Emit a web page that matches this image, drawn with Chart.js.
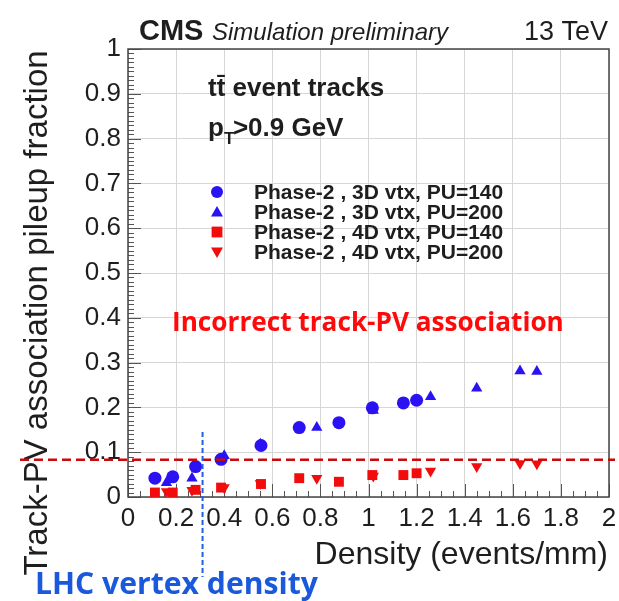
<!DOCTYPE html>
<html>
<head>
<meta charset="utf-8">
<script src="https://cdn.jsdelivr.net/npm/chart.js@4.4.1/dist/chart.umd.min.js"></script>
<style>
  html, body { margin: 0; padding: 0; background: #fff; }
  #wrap { width: 619px; height: 601px; position: relative; }
</style>
</head>
<body>
<div id="wrap"><canvas id="chart"></canvas></div>
<script>
// pile-up densities (events/mm) for the two PU scenarios
const densityPU140 = [0.112, 0.186, 0.281, 0.387, 0.553, 0.712, 0.877, 1.016, 1.145, 1.2]
const densityPU200 = [0.16, 0.266, 0.40, 0.55, 0.785, 1.02, 1.258, 1.45, 1.63, 1.70]

// track-PV association pileup fraction
const frac3DPU140 = [0.042, 0.045, 0.068, 0.084, 0.115, 0.155, 0.166, 0.199, 0.21, 0.216]
const frac3DPU200 = [0.032, 0.042, 0.092, 0.118, 0.155, 0.193, 0.224, 0.243, 0.281, 0.28]
const frac4DPU140 = [0.010, 0.010, 0.016, 0.021, 0.029, 0.042, 0.034, 0.049, 0.049, 0.053]
const frac4DPU200 = [0.012, 0.015, 0.021, 0.030, 0.042, 0.047, 0.058, 0.068, 0.075, 0.074]

const seriesNames = [
  'Phase-2 , 3D vtx, PU=140',
  'Phase-2 , 3D vtx, PU=200',
  'Phase-2 , 4D vtx, PU=140',
  'Phase-2 , 4D vtx, PU=200'
]

const xTickValues = [0, 0.2, 0.4, 0.6, 0.8, 1, 1.2, 1.4, 1.6, 1.8, 2]
const xTickLabels = ['0', '0.2', '0.4', '0.6', '0.8', '1', '1.2', '1.4', '1.6', '1.8', '2']
const yTickValues = [0, 0.1, 0.2, 0.3, 0.4, 0.5, 0.6, 0.7, 0.8, 0.9, 1]
const yTickLabels = ['0', '0.1', '0.2', '0.3', '0.4', '0.5', '0.6', '0.7', '0.8', '0.9', '1']

const thresholdFraction = 0.083   // red dashed line
const lhcDensity = 0.31           // blue dashed line

const BLUE = '#2a12f2'
const RED = '#f20c0c'
const ROOT_FONT = '"Liberation Sans", Arial, Helvetica, sans-serif'
const NOTE_FONT = '"Open Sans", "Noto Sans", sans-serif'

const toPoints = (xs, ys) => xs.map((x, i) => ({ x, y: ys[i] }))

const markers = [
  { style: 'circle', rotation: 0, color: BLUE },
  { style: 'triangle', rotation: 0, color: BLUE },
  { style: 'rect', rotation: 0, color: RED },
  { style: 'triangle', rotation: 180, color: RED }
]

const seriesData = [
  toPoints(densityPU140, frac3DPU140),
  toPoints(densityPU200, frac3DPU200),
  toPoints(densityPU140, frac4DPU140),
  toPoints(densityPU200, frac4DPU200)
]

const datasets = seriesData.map((data, i) => ({
  label: seriesNames[i],
  data,
  pointStyle: markers[i].style,
  rotation: markers[i].rotation,
  pointRadius: markers[i].style === 'rect' ? 7 : 6.5,
  pointHoverRadius: 6.5,
  backgroundColor: markers[i].color,
  borderColor: markers[i].color,
  borderWidth: 0
}))

function drawMarker(ctx, style, rotation, x, y, r, color) {
  ctx.save()
  ctx.fillStyle = color
  ctx.translate(x, y)
  ctx.rotate(rotation * Math.PI / 180)
  ctx.beginPath()
  if (style === 'circle') {
    ctx.arc(0, 0, r, 0, Math.PI * 2)
  } else if (style === 'rect') {
    ctx.rect(-r * 0.9, -r * 0.9, r * 1.8, r * 1.8)
  } else {
    ctx.moveTo(0, -r)
    ctx.lineTo(r, r * 0.75)
    ctx.lineTo(-r, r * 0.75)
    ctx.closePath()
  }
  ctx.fill()
  ctx.restore()
}

function fitText(ctx, text, weight, family, width) {
  ctx.font = `${weight} 20px ${family}`
  const size = 20 * width / ctx.measureText(text).width
  ctx.font = `${weight} ${size}px ${family}`
}

// ROOT-style frame with inward major and minor ticks
const framePlugin = {
  id: 'frame',
  beforeDatasetsDraw(chart) {
    const { ctx, chartArea: a, scales: { x, y } } = chart
    ctx.save()
    ctx.strokeStyle = '#555'
    ctx.lineWidth = 1
    for (let v = 0; v <= 2.0001; v += 0.05) {
      const px = Math.round(x.getPixelForValue(v)) + 0.5
      const major = Math.abs(v / 0.2 - Math.round(v / 0.2)) < 1e-6
      ctx.beginPath()
      ctx.moveTo(px, a.bottom)
      ctx.lineTo(px, a.bottom - (major ? 13 : 6))
      ctx.stroke()
    }
    for (let v = 0; v <= 1.0001; v += 0.01) {
      const py = Math.round(y.getPixelForValue(v)) + 0.5
      const major = Math.abs(v / 0.1 - Math.round(v / 0.1)) < 1e-6
      ctx.beginPath()
      ctx.moveTo(a.left, py)
      ctx.lineTo(a.left + (major ? 13 : 6), py)
      ctx.stroke()
    }
    ctx.strokeStyle = '#444'
    ctx.lineWidth = 1.5
    ctx.strokeRect(a.left, a.top, a.right - a.left, a.bottom - a.top)
    ctx.restore()
  }
}

const notesPlugin = {
  id: 'notes',
  afterDraw(chart) {
    const { ctx, scales: { x, y } } = chart
    ctx.save()
    ctx.fillStyle = '#1e1e1e'
    ctx.textBaseline = 'alphabetic'

    // header
    ctx.textAlign = 'left'
    ctx.font = `bold 29px ${ROOT_FONT}`
    ctx.fillText('CMS', 139, 40)
    ctx.font = `italic 24px ${ROOT_FONT}`
    ctx.fillText('Simulation preliminary', 212, 40)
    ctx.textAlign = 'right'
    ctx.font = `27px ${ROOT_FONT}`
    ctx.fillText('13 TeV', 608, 40)

    // axis titles
    ctx.font = `32px ${ROOT_FONT}`
    ctx.textAlign = 'right'
    ctx.fillText('Density (events/mm)', 608, 564)
    ctx.save()
    ctx.font = `33px ${ROOT_FONT}`
    ctx.translate(47, 313)
    ctx.rotate(-Math.PI / 2)
    ctx.textAlign = 'center'
    ctx.fillText('Track-PV association pileup fraction', 0, 0)
    ctx.restore()

    // sample description
    ctx.textAlign = 'left'
    ctx.font = `bold 26px ${ROOT_FONT}`
    ctx.fillText('tt\u0304 event tracks', 208, 96)
    ctx.fillText('p', 208, 136)
    const pw = ctx.measureText('p').width
    ctx.font = `bold 17px ${ROOT_FONT}`
    ctx.fillText('T', 208 + pw, 144)
    ctx.font = `bold 26px ${ROOT_FONT}`
    ctx.fillText('>0.9 GeV', 208 + pw + 9, 136)

    // legend
    ctx.font = `bold 21px ${ROOT_FONT}`
    seriesNames.forEach((name, i) => {
      const ly = 192 + i * 20
      drawMarker(ctx, markers[i].style, markers[i].rotation, 217, ly, 6, markers[i].color)
      ctx.fillStyle = '#1e1e1e'
      ctx.fillText(name, 254, ly + 7)
    })

    // pileup threshold line
    const ty = y.getPixelForValue(thresholdFraction)
    ctx.strokeStyle = '#c80a0a'
    ctx.lineWidth = 2.5
    ctx.setLineDash([9, 5])
    ctx.beginPath()
    ctx.moveTo(20, ty)
    ctx.lineTo(615, ty)
    ctx.stroke()

    // LHC density line
    const lx = x.getPixelForValue(lhcDensity)
    ctx.strokeStyle = '#1f5fe0'
    ctx.lineWidth = 2
    ctx.setLineDash([5, 3])
    ctx.beginPath()
    ctx.moveTo(lx, 432)
    ctx.lineTo(lx, 577)
    ctx.stroke()
    ctx.setLineDash([])

    // overlaid notes
    ctx.textAlign = 'left'
    ctx.fillStyle = '#ff0a0a'
    fitText(ctx, 'Incorrect track-PV association', 'bold', NOTE_FONT, 392)
    ctx.fillText('Incorrect track-PV association', 172, 331)
    ctx.fillStyle = '#1a58dc'
    fitText(ctx, 'LHC vertex density', 'bold', NOTE_FONT, 283)
    ctx.fillText('LHC vertex density', 35, 594)
    ctx.restore()
  }
}

new Chart(document.getElementById('chart'), {
  type: 'scatter',
  data: { datasets },
  plugins: [framePlugin, notesPlugin],
  options: {
    responsive: true,
    maintainAspectRatio: false,
    animation: false,
    layout: { padding: { top: 49, right: 10, left: 0, bottom: 0 } },
    plugins: {
      legend: { display: false },
      tooltip: { enabled: false }
    },
    scales: {
      x: {
        type: 'linear',
        min: 0,
        max: 2,
        afterBuildTicks: scale => { scale.ticks = xTickValues.map(value => ({ value })) },
        afterFit: scale => {
          scale.height = 104
          scale.paddingLeft = 0
          scale.paddingRight = 0
        },
        grid: { color: '#d6d6d6', lineWidth: 1, drawTicks: false },
        border: { display: false },
        ticks: {
          padding: 6,
          color: '#1e1e1e',
          maxRotation: 0,
          autoSkip: false,
          font: { family: ROOT_FONT, size: 26 },
          callback: (v, i) => xTickLabels[i]
        }
      },
      y: {
        type: 'linear',
        min: 0,
        max: 1,
        afterBuildTicks: scale => { scale.ticks = yTickValues.map(value => ({ value })) },
        afterFit: scale => {
          scale.width = 128
          scale.paddingTop = 0
          scale.paddingBottom = 0
        },
        grid: { color: '#d6d6d6', lineWidth: 1, drawTicks: false },
        border: { display: false },
        ticks: {
          padding: 7,
          color: '#1e1e1e',
          autoSkip: false,
          font: { family: ROOT_FONT, size: 26 },
          callback: (v, i) => yTickLabels[i]
        }
      }
    }
  }
})
</script>
</body>
</html>
